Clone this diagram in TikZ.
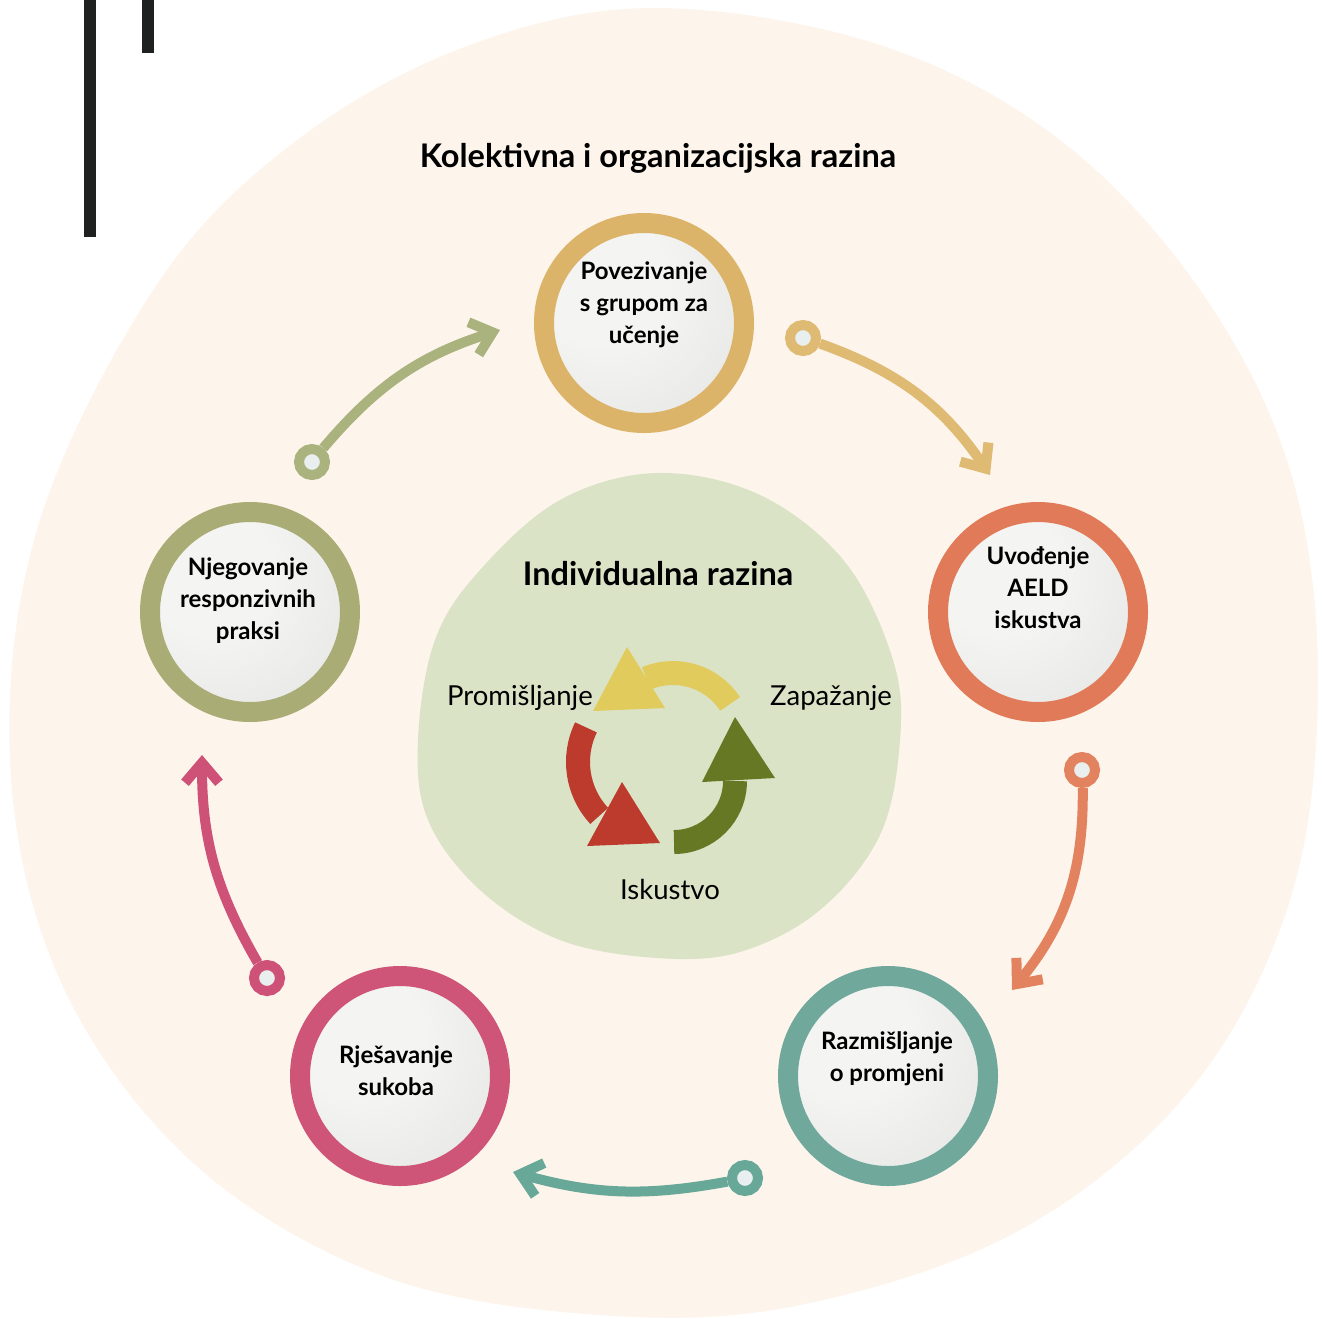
\documentclass[tikz,border=0pt]{standalone}
\usepackage{fontspec}
\setmainfont{Lato}
\usetikzlibrary{arrows.meta, positioning}

\definecolor{cream}{RGB}{253,244,235}
\definecolor{blob}{RGB}{219,227,199}
\definecolor{bar}{RGB}{30,33,32}
\definecolor{goldring}{RGB}{219,180,106}
\definecolor{orangering}{RGB}{224,122,88}
\definecolor{tealring}{RGB}{112,168,155}
\definecolor{pinkring}{RGB}{206,84,120}
\definecolor{olivering}{RGB}{170,172,118}
\definecolor{goldarrow}{RGB}{222,186,114}
\definecolor{orangearrow}{RGB}{226,130,95}
\definecolor{tealarrow}{RGB}{104,168,152}
\definecolor{pinkarrow}{RGB}{206,82,120}
\definecolor{olivearrow}{RGB}{170,178,126}
\definecolor{dotfill}{RGB}{233,238,238}
\definecolor{cycyellow}{RGB}{224,203,92}
\definecolor{cycgreen}{RGB}{102,120,35}
\definecolor{cycred}{RGB}{188,59,44}
\definecolor{knobhi}{RGB}{244,244,242}
\definecolor{knoblo}{RGB}{216,218,214}

\pgfdeclareradialshading{knob}{\pgfpoint{-14bp}{14bp}}{color(0bp)=(knobhi); color(16bp)=(knobhi); color(60bp)=(knoblo)}

\tikzset{
  ring/.style={circle, line width=20, minimum size=200, inner sep=0, shade, shading=knob},
  dot/.style={circle, line width=10, minimum size=26, inner sep=0, fill=dotfill},
  link/.style={line width=10, -{Straight Barb[length=20pt, width=34pt]}},
  steplabel/.style={align=center, font=\fontsize{24}{32}\selectfont\bfseries},
  cyclabel/.style={font=\fontsize{27.5}{30}\selectfont},
  heading/.style={font=\fontsize{32.5}{36}\selectfont\bfseries}
}

\begin{document}
\begin{tikzpicture}[x=1pt, y=-1pt]
        \useasboundingbox (0,0) rectangle (1322,1318);
        \fill[white] (0,0) rectangle (1322,1318);

        \fill[cream] plot[smooth cycle, tension=0.6] coordinates {(655,8) (880,45) (1060,140) (1200,290) (1290,470) (1318,680) (1290,900) (1190,1090) (1020,1230) (800,1305) (600,1315) (380,1275) (190,1160) (60,980) (10,760) (40,520) (160,280) (300,138) (470,45)};
        \fill[bar] (84,0) rectangle (96,237);
        \fill[bar] (142,0) rectangle (154,53);

        \node[heading] (kolektiv) at (658,158) {Kolektivna i organizacijska razina};

        % inner level
        \fill[blob] plot[smooth cycle, tension=0.6] coordinates {(657,473) (760,495) (845,562) (893,660) (900,740) (880,835) (820,910) (740,952) (657,958) (560,940) (480,890) (428,820) (418,740) (435,640) (480,570) (560,500)};
        \node[heading] (individ) at (658,574) {Individualna razina};

        \draw[line width=24, cycyellow] (673,741) ++(-33:68) arc[start angle=-33, end angle=-113, radius=68];
        \fill[cycyellow] (627,647) -- (593,711) -- (665,708) -- cycle;
        \draw[line width=24, cycgreen] (674,781) ++(90:61) arc[start angle=90, end angle=0, radius=61];
        \fill[cycgreen] (735,717) -- (702,782) -- (775,778) -- cycle;
        \draw[line width=24, cycred] (657,762) ++(206:79) arc[start angle=206, end angle=137, radius=79];
        \fill[cycred] (622,782) -- (587,846) -- (660,843) -- cycle;

        \node[cyclabel] (promis) at (520,698) {Promišljanje};
        \node[cyclabel] (zapaz) at (831,698) {Zapažanje};
        \node[cyclabel] (iskus) at (670,889) {Iskustvo};

        % outer level
        \node[ring, draw=goldring] (povez) at (644,323) {};
        \node[ring, draw=orangering] (uvod) at (1038,612) {};
        \node[ring, draw=tealring] (razmis) at (888,1076) {};
        \node[ring, draw=pinkring] (rjes) at (400,1076) {};
        \node[ring, draw=olivering] (njeg) at (250,612) {};

        \node[steplabel] (povez-t) at (644,305) {Povezivanje\\s grupom za\\učenje};
        \node[steplabel] (uvod-t) at (1038,588) {Uvođenje\\AELD\\iskustva};
        \node[steplabel] (razmis-t) at (887,1059) {Razmišljanje\\o promjeni};
        \node[steplabel] (rjes-t) at (396,1071) {Rješavanje\\sukoba};
        \node[steplabel] (njeg-t) at (248,601) {Njegovanje\\responzivnih\\praksi};

        \node[dot, draw=goldarrow] (d1) at (803,338) {};
        \node[dot, draw=orangearrow] (d2) at (1082,770) {};
        \node[dot, draw=tealarrow] (d3) at (745,1178) {};
        \node[dot, draw=pinkarrow] (d4) at (267,978) {};
        \node[dot, draw=olivearrow] (d5) at (312,462) {};
        \coordinate (t1) at (990,475);
        \coordinate (t2) at (1012,990);
        \coordinate (t3) at (513,1172);
        \coordinate (t4) at (202,755);
        \coordinate (t5) at (500,330);

        \draw[link, goldarrow] (d1) to[bend left=18] (t1);
        \draw[link, orangearrow] (d2) to[bend left=20] (t2);
        \draw[link, tealarrow] (d3) to[bend left=13] (t3);
        \draw[link, pinkarrow] (d4) to[bend left=15] (t4);
        \draw[link, olivearrow] (d5) to[bend left=16] (t5);

\end{tikzpicture}
\end{document}
